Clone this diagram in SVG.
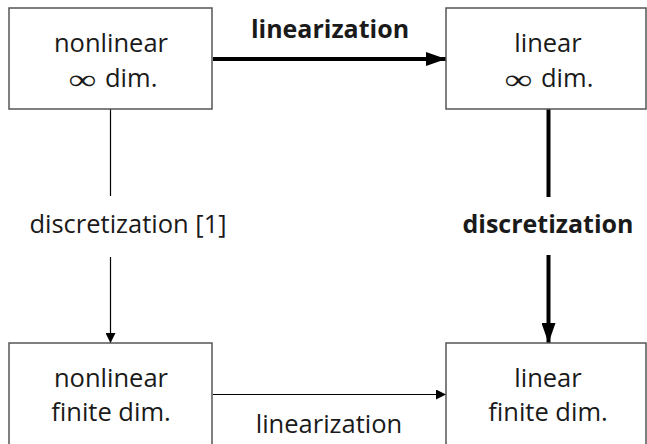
<svg xmlns="http://www.w3.org/2000/svg" width="647" height="444" viewBox="0 0 647 444">
  <style>
    .box { fill: #ffffff; stroke: #555555; stroke-width: 1.5; }
    .lbl { font-family: "Open Sans", "Noto Sans", sans-serif; font-size: 25.5px; fill: #1a1a1a; text-anchor: middle; }
    .bold { font-weight: bold; font-size: 25px; }
    .start { text-anchor: start; }
    .inf { font-family: "Liberation Serif", "DejaVu Serif", serif; font-size: 28px; fill: #1a1a1a; text-anchor: middle; }
    .thin { stroke: #000; stroke-width: 1.2; fill: none; }
    .thick { stroke: #000; stroke-width: 4; fill: none; }
  </style>
  <defs>
    <marker id="headThin" viewBox="0 0 10 10" refX="10" refY="5" markerWidth="10" markerHeight="10" markerUnits="userSpaceOnUse" orient="auto">
      <path d="M0,0 L10,5 L0,10 Z" fill="#000"/>
    </marker>
    <marker id="headThick" viewBox="0 0 20 14" refX="20" refY="7" markerWidth="20" markerHeight="14" markerUnits="userSpaceOnUse" orient="auto">
      <path d="M0,0 L20,7 L0,14 Z" fill="#000"/>
    </marker>
  </defs>

  <g id="connectors">
    <!-- top: nonlinear inf -> linear inf (bold) -->
    <line class="thick" x1="213" y1="59" x2="446" y2="59" marker-end="url(#headThick)"/>
    <!-- left: discretization [1] -->
    <line class="thin" x1="110.5" y1="109" x2="110.5" y2="196"/>
    <line class="thin" x1="110.5" y1="257" x2="110.5" y2="343" marker-end="url(#headThin)"/>
    <!-- right: discretization (bold) -->
    <line class="thick" x1="548.5" y1="109" x2="548.5" y2="197"/>
    <line class="thick" x1="548.5" y1="255" x2="548.5" y2="343" marker-end="url(#headThick)"/>
    <!-- bottom: nonlinear finite -> linear finite -->
    <line class="thin" x1="213" y1="394.5" x2="446" y2="394.5" marker-end="url(#headThin)"/>

    <text class="lbl bold" x="330" y="38">linearization</text>
    <text class="lbl" x="128" y="233">discretization [1]</text>
    <text class="lbl bold" x="548" y="233">discretization</text>
    <text class="lbl" x="329" y="433">linearization</text>
  </g>

  <g id="nonlinear-inf">
    <rect class="box" x="9" y="8" width="203" height="101"/>
    <text class="lbl" x="111" y="52">nonlinear</text>
    <text class="inf" transform="translate(82.5 89) scale(1.4 1)">∞</text>
    <text class="lbl start" x="105" y="87">dim.</text>
  </g>

  <g id="linear-inf">
    <rect class="box" x="446" y="8" width="200" height="101"/>
    <text class="lbl" x="548" y="52">linear</text>
    <text class="inf" transform="translate(518.5 89) scale(1.4 1)">∞</text>
    <text class="lbl start" x="541" y="87">dim.</text>
  </g>

  <g id="nonlinear-finite">
    <rect class="box" x="9" y="343" width="203" height="110"/>
    <text class="lbl" x="111" y="387">nonlinear</text>
    <text class="lbl" x="111" y="421">finite dim.</text>
  </g>

  <g id="linear-finite">
    <rect class="box" x="446" y="343" width="200" height="110"/>
    <text class="lbl" x="548" y="387">linear</text>
    <text class="lbl" x="548" y="421">finite dim.</text>
  </g>
</svg>
